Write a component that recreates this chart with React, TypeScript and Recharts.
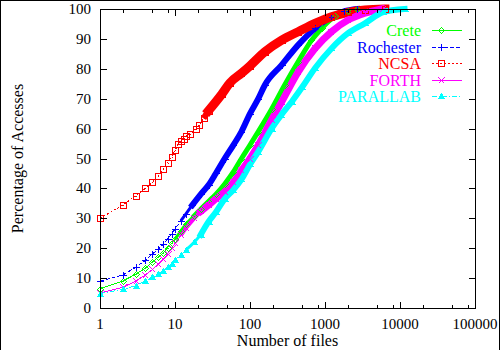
import React from 'react';
import { LineChart, Line, XAxis, YAxis, Legend } from 'recharts';

// ---- data ----
const creteFiles = [1, 2, 3, 4, 5, 6, 7, 8, 9, 10, 12, 14, 18, 22, 28, 35, 46, 60, 77, 100, 129, 194, 290, 440, 660, 900, 1350, 2000, 2700];
const creteAccess = [6.4, 9, 11.3, 13.3, 15.4, 17, 18.5, 20.2, 21.6, 23, 25.8, 28, 30.8, 33, 35.6, 38, 41.5, 45.5, 50, 54.5, 59, 66.5, 74.6, 82.4, 89.5, 93.5, 97.5, 99.3, 100];

const rochesterFiles = [1, 2, 3, 4, 5, 6, 7, 8, 9, 10, 12, 14, 17, 22, 28, 35, 46, 60, 77, 100, 129, 158, 265, 440, 735, 1220, 1800, 2700];
const rochesterAccess = [9, 11, 13.6, 15.9, 18.1, 19.7, 21.4, 23.1, 24.9, 26.4, 29.2, 31.5, 34.4, 38, 41.1, 45, 50, 54.5, 59, 65, 70, 74.6, 81.3, 88, 93.5, 97.4, 99.2, 100];

const ncsaFiles = [1, 2, 3, 4, 5, 6, 7, 8, 9, 10, 11, 12, 13, 14, 16, 19, 21, 24, 28, 42, 54, 77, 100, 158, 265, 440, 735, 1220, 2030, 3400, 6300];
const ncsaAccess = [30, 34.4, 37.5, 40, 42, 44.3, 46.4, 48.6, 50.6, 52.7, 54.7, 55.7, 56.5, 57.4, 58.2, 59.9, 61.2, 63.4, 66, 71.5, 75.3, 78.5, 81, 85.7, 89.6, 92.4, 95.2, 97.4, 98.9, 99.7, 100];

const forthFiles = [1, 2, 3, 4, 5, 6, 7, 8, 9, 10, 12, 14, 18, 22, 28, 35, 46, 60, 77, 100, 129, 194, 265, 440, 735, 1220, 2030, 3400, 5700];
const forthAccess = [5, 6.9, 9, 11, 12.9, 14.6, 16.4, 18.2, 19.9, 21.6, 24.3, 26.7, 30, 32.3, 34.4, 36.5, 38.9, 42, 46, 50, 54.5, 62.9, 69, 79, 86.8, 92.4, 96.3, 98.6, 100];

const parallabFiles = [1, 2, 3, 4, 5, 6, 7, 8, 9, 10, 12, 14, 18, 22, 28, 35, 46, 60, 77, 100, 129, 194, 260, 360, 500, 735, 1220, 2030, 3400, 6000, 11500];
const parallabAccess = [4.8, 6.2, 7.5, 9, 10.3, 11.4, 12.5, 13.7, 14.8, 16, 17.7, 19.4, 22, 24.5, 28.9, 32, 36.5, 39.5, 43, 48, 52.3, 60, 64.5, 69, 74, 80.2, 86.8, 91.9, 95.2, 99, 100];

const seriesNames = ['Crete', 'Rochester', 'NCSA', 'FORTH', 'PARALLAB'];
const xMajorTicks = [1, 10, 100, 1000, 10000, 100000];
const xMinorTicks = [2, 5, 8, 20, 50, 80, 200, 500, 800, 2000, 5000, 8000, 20000, 50000, 80000];
const yTicks = [0, 10, 20, 30, 40, 50, 60, 70, 80, 90, 100];
const xTitle = 'Number of files';
const yTitle = 'Percentage of Accesses';

// ---- layout / style ----
const W = 502;
const H = 350;
const PL = 100;
const PR = 475;
const PT = 9;
const PB = 308;
const FONT = "'Liberation Serif', 'Times New Roman', 'DejaVu Serif', serif";
const textStyle = { fontFamily: FONT };

type Pt = { x: number; y: number };
const build = (xs: number[], ys: number[]): Pt[] => xs.map((x, i) => ({ x, y: ys[i] }));

type Kind = 'diamond' | 'plus' | 'box' | 'cross' | 'triangle';

const SERIES = [
  { name: seriesNames[0], color: '#00ff00', data: build(creteFiles, creteAccess), kind: 'diamond' as Kind, dash: undefined as string | undefined, band: 5, bandFrom: 18, preFrom: 10 },
  { name: seriesNames[1], color: '#0000ff', data: build(rochesterFiles, rochesterAccess), kind: 'plus' as Kind, dash: '4 2', band: 6, bandFrom: 17, preFrom: 12 },
  { name: seriesNames[2], color: '#ff0000', data: build(ncsaFiles, ncsaAccess), kind: 'box' as Kind, dash: '2 2', band: 9, bandFrom: 28, preFrom: 24 },
  { name: seriesNames[3], color: '#ff00ff', data: build(forthFiles, forthAccess), kind: 'cross' as Kind, dash: undefined as string | undefined, band: 7, bandFrom: 22, preFrom: 12 },
  { name: seriesNames[4], color: '#00ffff', data: build(parallabFiles, parallabAccess), kind: 'triangle' as Kind, dash: '5 2 1 2', band: 6, bandFrom: 22, preFrom: 14 },
];

function Marker({ kind, cx, cy, color }: { kind: Kind; cx: number; cy: number; color: string }) {
  const s = 3;
  const x = Math.round(cx) + 0.5;
  const y = Math.round(cy) + 0.5;
  let shape: React.ReactNode;
  switch (kind) {
    case 'diamond':
      shape = (
        <>
          <path d={`M${x},${y - s}L${x + s},${y}L${x},${y + s}L${x - s},${y}Z`} fill="none" stroke={color} />
          <rect x={x - 0.5} y={y - 0.5} width={1} height={1} fill={color} />
        </>
      );
      break;
    case 'plus':
      shape = (
        <>
          <line x1={x - 3.5} x2={x + 3.5} y1={y} y2={y} stroke={color} />
          <line x1={x} x2={x} y1={y - 3.5} y2={y + 3.5} stroke={color} />
        </>
      );
      break;
    case 'box':
      shape = (
        <>
          <rect x={x - s} y={y - s} width={2 * s} height={2 * s} fill="none" stroke={color} />
          <rect x={x - 0.5} y={y - 0.5} width={1} height={1} fill={color} />
        </>
      );
      break;
    case 'cross':
      shape = (
        <>
          <line x1={x - s} x2={x + s} y1={y - s} y2={y + s} stroke={color} />
          <line x1={x - s} x2={x + s} y1={y + s} y2={y - s} stroke={color} />
        </>
      );
      break;
    default:
      shape = <path d={`M${x},${y - s}L${x + s},${y + s - 1}L${x - s},${y + s - 1}Z`} fill={color} stroke={color} />;
  }
  return <g shapeRendering="crispEdges">{shape}</g>;
}

const renderXTick = (p: any) => {
  const v = p.payload.value;
  const x = Math.round(p.x) + 0.5;
  const major = xMajorTicks.indexOf(v) >= 0;
  const len = major ? 6 : 3;
  return (
    <g key={`xt-${v}`}>
      <g shapeRendering="crispEdges">
        <line x1={x} x2={x} y1={PB} y2={PB - len} stroke="#000" />
        <line x1={x} x2={x} y1={PT + 1} y2={PT + 1 + len} stroke="#000" />
      </g>
      {major && (
        <text x={p.x} y={329} textAnchor="middle" style={textStyle} fontFamily={FONT} fontSize={15} fill="#000">
          {v}
        </text>
      )}
    </g>
  );
};

const renderYTick = (p: any) => {
  const v = p.payload.value;
  const y = Math.round(p.y) + 0.5;
  return (
    <g key={`yt-${v}`}>
      <g shapeRendering="crispEdges">
        <line x1={PL + 1} x2={PL + 7} y1={y} y2={y} stroke="#000" />
        <line x1={PR} x2={PR - 6} y1={y} y2={y} stroke="#000" />
      </g>
      <text x={91} y={p.y + 5} textAnchor="end" style={textStyle} fontFamily={FONT} fontSize={15} fill="#000">
        {v}
      </text>
    </g>
  );
};

const renderXTitle = () => (
  <text x={(PL + PR) / 2} y={346} textAnchor="middle" style={textStyle} fontFamily={FONT} fontSize={16} fill="#000">
    {xTitle}
  </text>
);

const renderYTitle = () => (
  <text
    x={23}
    y={(PT + PB) / 2}
    transform={`rotate(-90, 23, ${(PT + PB) / 2})`}
    textAnchor="middle"
    style={textStyle}
    fontFamily={FONT}
    fontSize={16}
    fill="#000"
  >
    {yTitle}
  </text>
);

const renderLegend = () => (
  <svg width={W} height={110} style={{ display: 'block' }}>
    {SERIES.map((s, i) => {
      const base = 36 + 16.6 * i;
      const ly = Math.round(base - 6) + 0.5;
      return (
        <g key={s.name}>
          <text x={421} y={base} textAnchor="end" style={textStyle} fontFamily={FONT} fontSize={16} fill={s.color}>
            {s.name}
          </text>
          <line x1={432} x2={462} y1={ly} y2={ly} stroke={s.color} strokeDasharray={s.dash} shapeRendering="crispEdges" />
          <Marker kind={s.kind} cx={441} cy={ly - 0.5} color={s.color} />
        </g>
      );
    })}
  </svg>
);

export default function App() {
  const lines: React.ReactNode[] = [];
  SERIES.forEach((s) => {
    lines.push(
      <Line
        key={`thin-${s.name}`}
        data={s.data}
        dataKey="y"
        name={s.name}
        type="linear"
        stroke={s.color}
        strokeWidth={1}
        strokeDasharray={s.dash}
        shapeRendering="crispEdges"
        dot={(p: any) => <Marker key={`m-${s.name}-${p.index}`} kind={s.kind} cx={p.cx} cy={p.cy} color={s.color} />}
        activeDot={false}
        isAnimationActive={false}
        legendType="none"
      />
    );
    lines.push(
      <Line
        key={`pre-${s.name}`}
        data={s.data.filter((d) => d.x >= s.preFrom && d.x <= s.bandFrom * 1.6)}
        dataKey="y"
        type="monotone"
        stroke={s.color}
        strokeWidth={Math.max(3, s.band - 3)}
        strokeLinecap="butt"
        dot={false}
        activeDot={false}
        isAnimationActive={false}
        legendType="none"
      />
    );
    lines.push(
      <Line
        key={`band-${s.name}`}
        data={s.data.filter((d) => d.x >= s.bandFrom)}
        dataKey="y"
        type="monotone"
        stroke={s.color}
        strokeWidth={s.band}
        strokeLinecap="square"
        strokeLinejoin="round"
        dot={false}
        activeDot={false}
        isAnimationActive={false}
        legendType="none"
      />
    );
  });

  return (
    <div style={{ position: 'absolute', left: 0, top: 0, width: W, height: H, background: '#fff' }}>
      <LineChart width={W} height={H} margin={{ top: PT, right: W - PR, bottom: 0, left: 0 }}>
        <XAxis
          dataKey="x"
          type="number"
          scale="log"
          domain={[1, 100000]}
          ticks={[...xMajorTicks, ...xMinorTicks]}
          interval={0}
          tick={renderXTick}
          tickLine={false}
          axisLine={false}
          tickSize={0}
          tickMargin={0}
          height={H - PB}
          label={renderXTitle}
        />
        <YAxis
          type="number"
          domain={[0, 100]}
          ticks={yTicks}
          interval={0}
          width={PL}
          tick={renderYTick}
          tickLine={false}
          axisLine={false}
          tickSize={0}
          tickMargin={0}
          label={renderYTitle}
        />
        <Legend
          layout="horizontal"
          verticalAlign="middle"
          align="center"
          content={renderLegend}
          wrapperStyle={{ left: 0, top: 0, width: W, height: 110, pointerEvents: 'none' }}
        />
        {lines}
      </LineChart>
      <div
        style={{
          position: 'absolute',
          left: PL,
          top: PT,
          width: PR - PL + 1,
          height: PB - PT + 1,
          border: '1px solid #000',
          boxSizing: 'border-box',
          pointerEvents: 'none',
        }}
      />
      <div
        style={{
          position: 'absolute',
          left: 0,
          top: 0,
          width: 500,
          height: H,
          borderLeft: '1px solid #000',
          borderTop: '1px solid #000',
          borderRight: '1px solid #000',
          boxSizing: 'border-box',
          pointerEvents: 'none',
        }}
      />
    </div>
  );
}
